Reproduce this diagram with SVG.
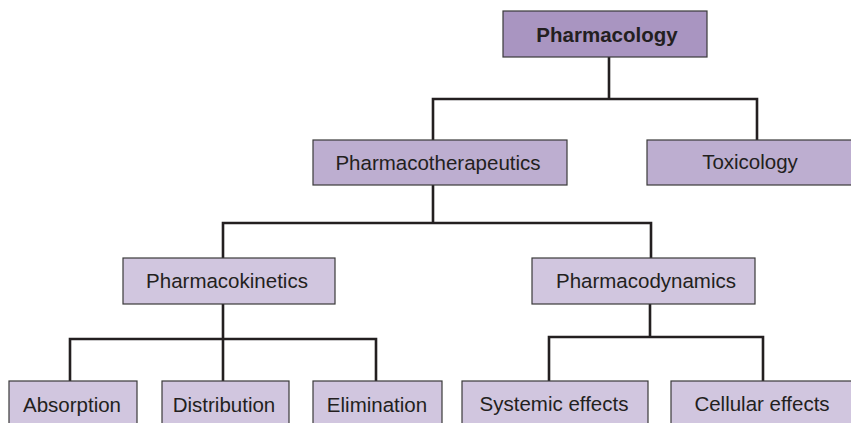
<svg xmlns="http://www.w3.org/2000/svg" width="851" height="423" viewBox="0 0 851 423">
<style>
.box{stroke:#3a3a3a;stroke-width:1.2}
.l1{fill:#a995c1}
.l2{fill:#bdaed0}
.l3{fill:#d1c6df}
.t{font-family:"Liberation Sans",Arial,sans-serif;font-size:20.5px;fill:#231f20;text-anchor:middle}
.b{font-weight:bold}
.c{fill:none;stroke:#231f20;stroke-width:2.6;stroke-linejoin:miter;stroke-linecap:square}
</style>
<rect width="851" height="423" fill="#ffffff"/>
<g id="connectors">
<path class="c" d="M609,57V99M433,140V99H757V140"/>
<path class="c" d="M433,185V223M223,258V223H651V258"/>
<path class="c" d="M223,304V339M70,381V339H376V381M223,339V381"/>
<path class="c" d="M650,304V337M549,381V337H763V381"/>
</g>
<g id="pharmacology"><rect class="box l1" x="503" y="11" width="204" height="46"/><text class="t b" x="607" y="42">Pharmacology</text></g>
<g id="pharmacotherapeutics"><rect class="box l2" x="313" y="140" width="254" height="45"/><text class="t" x="438" y="170">Pharmacotherapeutics</text></g>
<g id="toxicology"><rect class="box l2" x="647" y="140" width="210" height="45"/><text class="t" x="750" y="169">Toxicology</text></g>
<g id="pharmacokinetics"><rect class="box l3" x="123" y="258" width="212" height="46"/><text class="t" x="227" y="288">Pharmacokinetics</text></g>
<g id="pharmacodynamics"><rect class="box l3" x="532" y="258" width="223" height="46"/><text class="t" x="646" y="288">Pharmacodynamics</text></g>
<g id="absorption"><rect class="box l3" x="9" y="381" width="128" height="50"/><text class="t" x="72" y="412">Absorption</text></g>
<g id="distribution"><rect class="box l3" x="162" y="381" width="127" height="50"/><text class="t" x="224" y="412">Distribution</text></g>
<g id="elimination"><rect class="box l3" x="313" y="381" width="129" height="50"/><text class="t" x="377" y="412">Elimination</text></g>
<g id="systemic"><rect class="box l3" x="462" y="381" width="186" height="50"/><text class="t" x="554" y="411">Systemic effects</text></g>
<g id="cellular"><rect class="box l3" x="671" y="381" width="190" height="50"/><text class="t" x="762" y="411">Cellular effects</text></g>
</svg>
